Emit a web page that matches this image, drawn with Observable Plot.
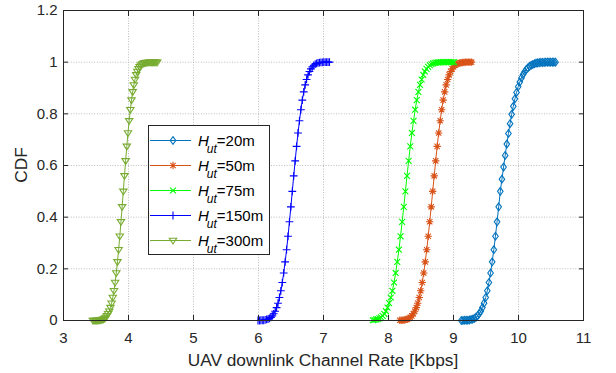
<!DOCTYPE html>
<html>
<head>
<meta charset="utf-8">
<script src="https://cdn.jsdelivr.net/npm/d3@7"></script>
<script src="https://cdn.jsdelivr.net/npm/@observablehq/plot@0.6"></script>
<style>
  html, body { margin: 0; padding: 0; background: #ffffff; }
  #chart { width: 616px; height: 373px; }
</style>
</head>
<body>
<div id="chart"></div>
<script>
// ---------- tick labels / text ----------
const xTicks = [3, 4, 5, 6, 7, 8, 9, 10, 11];
const xTickLabels = ["3", "4", "5", "6", "7", "8", "9", "10", "11"];
const yTicks = [0, 0.2, 0.4, 0.6, 0.8, 1, 1.2];
const yTickLabels = ["0", "0.2", "0.4", "0.6", "0.8", "1", "1.2"];
const xLabel = "UAV downlink Channel Rate [Kbps]";
const yLabel = "CDF";

// ---------- series ----------
const seriesHeights = ["20m", "50m", "75m", "150m", "300m"];
const seriesColors = ["#0072BD", "#D95319", "#00FF00", "#0000FF", "#77AC30"];

// [rate (Kbps), CDF] pairs
const cdf20m = [
  [9.120,0.000],[9.145,0.000],[9.170,0.001],[9.195,0.001],[9.220,0.001],[9.245,0.002],
  [9.270,0.004],[9.295,0.005],[9.320,0.008],[9.345,0.012],[9.370,0.018],[9.395,0.026],
  [9.420,0.036],[9.445,0.050],[9.470,0.067],[9.495,0.089],[9.520,0.115],[9.545,0.147],
  [9.570,0.184],[9.595,0.227],[9.620,0.274],[9.645,0.326],[9.670,0.382],[9.695,0.440],
  [9.720,0.500],[9.745,0.547],[9.770,0.594],[9.795,0.639],[9.820,0.683],[9.845,0.724],
  [9.870,0.762],[9.895,0.798],[9.920,0.829],[9.945,0.858],[9.970,0.883],[9.995,0.905],
  [10.020,0.923],[10.045,0.939],[10.070,0.952],[10.095,0.963],[10.120,0.972],[10.145,0.978],
  [10.170,0.984],[10.195,0.988],[10.220,0.991],[10.245,0.994],[10.270,0.996],[10.295,0.997],
  [10.320,0.998],[10.345,0.999],[10.370,0.999],[10.395,0.999],[10.420,1.000],[10.445,1.000],
  [10.470,1.000],[10.495,1.000],[10.520,1.000],[10.545,1.000],[10.570,1.000]
];
const cdf50m = [
  [8.174,0.001],[8.197,0.001],[8.220,0.001],[8.243,0.002],[8.266,0.004],[8.289,0.005],
  [8.312,0.008],[8.335,0.012],[8.358,0.018],[8.381,0.026],[8.404,0.036],[8.427,0.050],
  [8.450,0.067],[8.473,0.089],[8.496,0.115],[8.519,0.147],[8.542,0.184],[8.565,0.227],
  [8.588,0.274],[8.611,0.326],[8.634,0.382],[8.657,0.440],[8.680,0.500],[8.703,0.560],
  [8.726,0.618],[8.749,0.674],[8.772,0.726],[8.795,0.773],[8.818,0.816],[8.841,0.853],
  [8.864,0.885],[8.887,0.912],[8.910,0.933],[8.933,0.951],[8.956,0.964],[8.979,0.974],
  [9.002,0.982],[9.025,0.988],[9.048,0.992],[9.071,0.995],[9.094,0.997],[9.117,0.998],
  [9.140,0.999],[9.163,0.999],[9.186,1.000],[9.209,1.000],[9.232,1.000],[9.255,1.000],
  [9.278,1.000]
];
const cdf75m = [
  [7.760,0.001],[7.785,0.002],[7.810,0.004],[7.835,0.005],[7.860,0.008],[7.885,0.012],
  [7.910,0.018],[7.935,0.026],[7.960,0.036],[7.985,0.050],[8.010,0.067],[8.035,0.089],
  [8.060,0.115],[8.085,0.147],[8.110,0.184],[8.135,0.227],[8.160,0.274],[8.185,0.326],
  [8.210,0.382],[8.235,0.440],[8.260,0.500],[8.285,0.560],[8.310,0.618],[8.335,0.674],
  [8.360,0.726],[8.385,0.773],[8.410,0.816],[8.435,0.853],[8.460,0.885],[8.485,0.912],
  [8.510,0.933],[8.535,0.951],[8.560,0.964],[8.585,0.974],[8.610,0.982],[8.635,0.988],
  [8.660,0.992],[8.685,0.995],[8.710,0.997],[8.735,0.998],[8.760,0.999],[8.785,0.999],
  [8.810,1.000],[8.835,1.000],[8.860,1.000],[8.885,1.000],[8.910,1.000],[8.935,1.000],
  [8.960,1.000],[8.985,1.000],[9.010,1.000]
];
const cdf150m = [
  [5.992,0.000],[6.014,0.000],[6.036,0.001],[6.058,0.001],[6.080,0.001],[6.102,0.002],
  [6.124,0.004],[6.146,0.005],[6.168,0.008],[6.190,0.012],[6.212,0.018],[6.234,0.026],
  [6.256,0.036],[6.278,0.050],[6.300,0.067],[6.322,0.089],[6.344,0.115],[6.366,0.147],
  [6.388,0.184],[6.410,0.227],[6.432,0.274],[6.454,0.326],[6.476,0.382],[6.498,0.440],
  [6.520,0.500],[6.542,0.560],[6.564,0.618],[6.586,0.674],[6.608,0.726],[6.630,0.773],
  [6.652,0.816],[6.674,0.853],[6.696,0.885],[6.718,0.912],[6.740,0.933],[6.762,0.951],
  [6.784,0.964],[6.806,0.974],[6.828,0.982],[6.850,0.988],[6.872,0.992],[6.894,0.995],
  [6.916,0.997],[6.938,0.998],[6.960,0.999],[6.982,0.999],[7.004,1.000],[7.026,1.000],
  [7.048,1.000],[7.070,1.000],[7.092,1.000]
];
const cdf300m = [
  [3.452,0.000],[3.470,0.000],[3.488,0.000],[3.506,0.000],[3.524,0.001],[3.542,0.001],
  [3.560,0.001],[3.578,0.002],[3.596,0.004],[3.614,0.005],[3.632,0.008],[3.650,0.012],
  [3.668,0.018],[3.686,0.026],[3.704,0.036],[3.722,0.050],[3.740,0.067],[3.758,0.089],
  [3.776,0.115],[3.794,0.147],[3.812,0.184],[3.830,0.227],[3.848,0.274],[3.866,0.326],
  [3.884,0.382],[3.902,0.440],[3.920,0.500],[3.938,0.560],[3.956,0.618],[3.974,0.674],
  [3.992,0.726],[4.010,0.773],[4.028,0.816],[4.046,0.853],[4.064,0.885],[4.082,0.912],
  [4.100,0.933],[4.118,0.951],[4.136,0.964],[4.154,0.974],[4.172,0.982],[4.190,0.988],
  [4.208,0.992],[4.226,0.995],[4.244,0.997],[4.262,0.998],[4.280,0.999],[4.298,0.999],
  [4.316,1.000],[4.334,1.000],[4.352,1.000],[4.370,1.000],[4.388,1.000],[4.406,1.000],
  [4.424,1.000],[4.442,1.000]
];
const seriesData = [cdf20m, cdf50m, cdf75m, cdf150m, cdf300m];

// ---------- MATLAB-like marker shapes ----------
const rad = s => Math.sqrt(s / Math.PI);
const symDiamond = { draw(c, s) { const r = rad(s); c.moveTo(0, -r * 1.05); c.lineTo(r * 0.75, 0); c.lineTo(0, r * 1.05); c.lineTo(-r * 0.75, 0); c.closePath(); } };
const symAsterisk = { draw(c, s) { const r = rad(s), d = r * 0.72; c.moveTo(-r, 0); c.lineTo(r, 0); c.moveTo(0, -r); c.lineTo(0, r); c.moveTo(-d, -d); c.lineTo(d, d); c.moveTo(-d, d); c.lineTo(d, -d); } };
const symTimes = { draw(c, s) { const d = rad(s) * 0.8; c.moveTo(-d, -d); c.lineTo(d, d); c.moveTo(-d, d); c.lineTo(d, -d); } };
const symPlus = { draw(c, s) { const r = rad(s) * 1.05; c.moveTo(-r, 0); c.lineTo(r, 0); c.moveTo(0, -r); c.lineTo(0, r); } };
const symTriDown = { draw(c, s) { const r = rad(s); c.moveTo(-r, -r * 0.6); c.lineTo(r, -r * 0.6); c.lineTo(0, r * 0.95); c.closePath(); } };
const seriesSymbols = [symDiamond, symAsterisk, symTimes, symPlus, symTriDown];

const markR = 3.7;
const axisColor = "#262626";
const gridStyle = { stroke: "#bdbdbd", strokeOpacity: 1, strokeWidth: 1, strokeDasharray: "1,1.6" };

const seriesMarks = [];
seriesData.forEach((data, i) => {
  seriesMarks.push(Plot.line(data, { x: d => d[0], y: d => d[1], stroke: seriesColors[i], strokeWidth: 1 }));
  seriesMarks.push(Plot.dot(data, { x: d => d[0], y: d => d[1], stroke: seriesColors[i], fill: "none", strokeWidth: 1.1, r: markR, symbol: seriesSymbols[i] }));
});

const chart = Plot.plot({
  width: 616,
  height: 373,
  marginLeft: 63,
  marginRight: 33,
  marginTop: 10,
  marginBottom: 53,
  style: { fontFamily: "'Liberation Sans', Arial, Helvetica, sans-serif", fontSize: "15px", color: axisColor, background: "#ffffff" },
  x: { domain: [3, 11] },
  y: { domain: [0, 1.2] },
  marks: [
    Plot.gridX(xTicks, gridStyle),
    Plot.gridY(yTicks, gridStyle),
    ...seriesMarks,
    Plot.frame({ stroke: axisColor, strokeWidth: 1 }),
    Plot.axisX(xTicks, { anchor: "bottom", tickSize: 0, tickPadding: 12, label: null, fill: axisColor,
      tickFormat: d => xTickLabels[xTicks.indexOf(d)] }),
    Plot.axisX(xTicks, { anchor: "bottom", tickSize: 5, dy: -5, label: null, stroke: axisColor, tickFormat: () => "" }),
    Plot.axisX(xTicks, { anchor: "top", tickSize: 5, dy: 5, label: null, stroke: axisColor, tickFormat: () => "" }),
    Plot.axisY(yTicks, { anchor: "left", tickSize: 0, tickPadding: 6, label: null, fill: axisColor,
      tickFormat: d => yTickLabels[yTicks.indexOf(d)] }),
    Plot.axisY(yTicks, { anchor: "left", tickSize: 5, dx: 5, label: null, stroke: axisColor, tickFormat: () => "" }),
    Plot.axisY(yTicks, { anchor: "right", tickSize: 5, dx: -5, label: null, stroke: axisColor, tickFormat: () => "" })
  ]
});

document.getElementById("chart").appendChild(chart);

// ---------- axis titles ----------
const svg = d3.select(chart);
const fontFam = "'Liberation Sans', Arial, Helvetica, sans-serif";
svg.append("text")
  .attr("x", 323).attr("y", 366)
  .attr("text-anchor", "middle")
  .attr("font-family", fontFam).attr("font-size", 17.3)
  .attr("fill", axisColor)
  .text(xLabel);
svg.append("text")
  .attr("transform", "translate(27,165) rotate(-90)")
  .attr("text-anchor", "middle")
  .attr("font-family", fontFam).attr("font-size", 17.3)
  .attr("fill", axisColor)
  .text(yLabel);

// ---------- legend ----------
const lg = svg.append("g").attr("text-anchor", "start");
lg.append("rect")
  .attr("x", 148.5).attr("y", 125.5).attr("width", 121).attr("height", 129)
  .attr("fill", "#ffffff").attr("stroke", axisColor).attr("stroke-width", 1);
seriesHeights.forEach((h, i) => {
  const cy = 140.5 + i * 25;
  lg.append("line")
    .attr("x1", 150).attr("x2", 191).attr("y1", cy).attr("y2", cy)
    .attr("stroke", seriesColors[i]).attr("stroke-width", 1);
  lg.append("path")
    .attr("d", d3.symbol(seriesSymbols[i], Math.PI * markR * markR)())
    .attr("transform", `translate(173,${cy})`)
    .attr("fill", "none").attr("stroke", seriesColors[i]).attr("stroke-width", 1.1);
  const t = lg.append("text")
    .attr("x", 198).attr("y", cy + 5.5)
    .attr("text-anchor", "start")
    .attr("font-family", fontFam).attr("font-size", 15).attr("fill", "#000");
  t.append("tspan").attr("font-style", "italic").text("H");
  t.append("tspan").attr("font-style", "italic").attr("font-size", 12).attr("dx", -2).attr("dy", 7).text("ut");
  t.append("tspan").attr("dy", -7).attr("dx", 0).text("=" + h);
});
</script>
</body>
</html>
